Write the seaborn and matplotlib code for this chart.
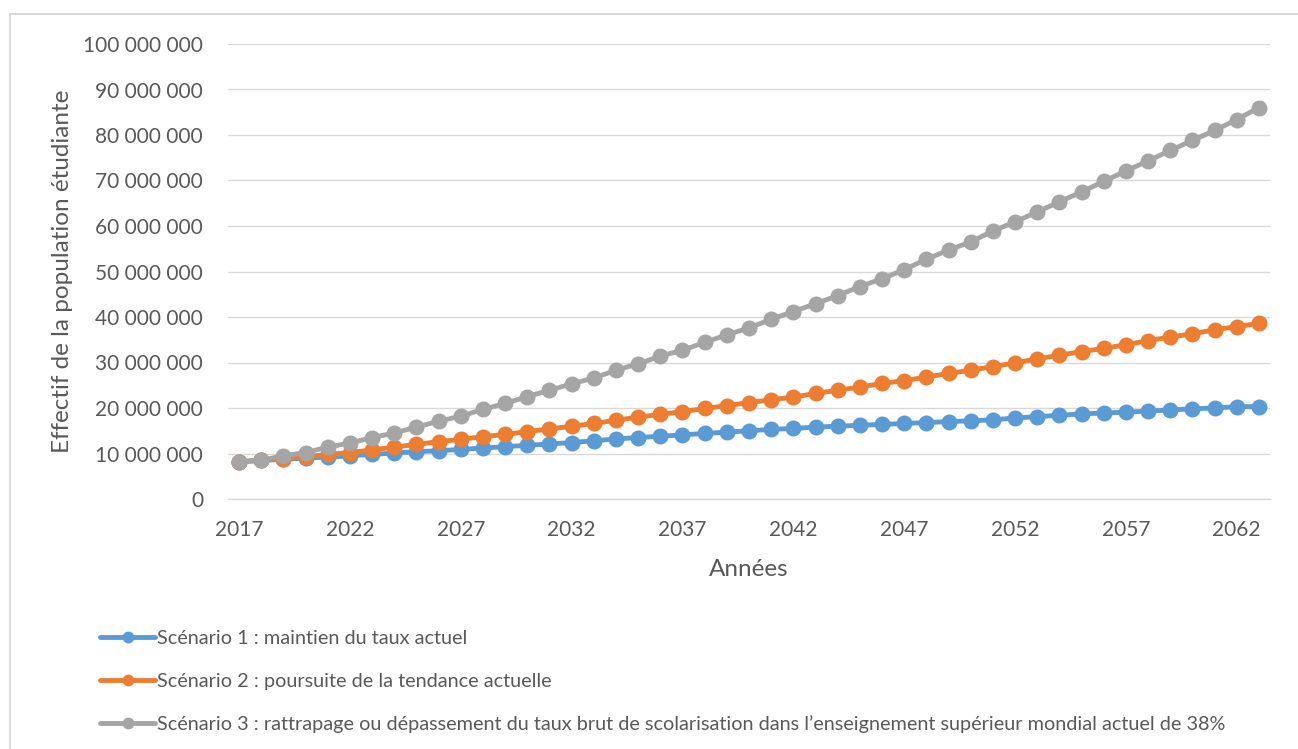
import pandas as pd
import seaborn as sns
import matplotlib.pyplot as plt
from matplotlib.ticker import FuncFormatter, MultipleLocator
from matplotlib.lines import Line2D

# années 2017 -> 2063
years = list(range(2017, 2064))

# effectifs en millions
scenario1 = [8.2, 8.5, 8.7, 9.0, 9.2, 9.5, 9.8, 10.1, 10.4, 10.6,
             10.9, 11.2, 11.5, 11.8, 12.1, 12.4, 12.8, 13.2, 13.5, 13.8,
             14.1, 14.4, 14.7, 15.0, 15.3, 15.5, 15.8, 16.0, 16.2, 16.4,
             16.6, 16.8, 17.0, 17.2, 17.4, 17.8, 18.1, 18.4, 18.7, 18.9,
             19.1, 19.3, 19.6, 19.8, 20.0, 20.3, 20.3]
scenario2 = [8.2, 8.5, 8.9, 9.3, 9.8, 10.2, 10.8, 11.4, 12.0, 12.6,
             13.1, 13.7, 14.2, 14.8, 15.4, 16.0, 16.6, 17.3, 18.0, 18.6,
             19.2, 19.9, 20.5, 21.2, 21.8, 22.4, 23.2, 23.9, 24.6, 25.4,
             26.0, 26.8, 27.6, 28.3, 29.1, 29.9, 30.8, 31.6, 32.4, 33.1,
             33.9, 34.8, 35.6, 36.3, 37.2, 37.9, 38.6]
scenario3 = [8.2, 8.5, 9.5, 10.2, 11.4, 12.3, 13.5, 14.5, 15.8, 17.1,
             18.2, 19.7, 21.0, 22.5, 23.9, 25.3, 26.6, 28.3, 29.7, 31.4,
             32.7, 34.4, 36.1, 37.6, 39.5, 41.2, 42.9, 44.7, 46.7, 48.4,
             50.4, 52.7, 54.7, 56.5, 58.9, 60.9, 63.1, 65.3, 67.5, 69.8,
             72.1, 74.3, 76.6, 78.8, 81.0, 83.4, 86.0]

labels = [
    "Scénario 1 : maintien du taux actuel",
    "Scénario 2 : poursuite de la tendance actuelle",
    "Scénario 3 : rattrapage ou dépassement du taux brut de scolarisation "
    "dans l\u2019enseignement supérieur mondial actuel de 38%",
]
colors = ["#5B9BD5", "#ED7D31", "#A5A5A5"]

rows = []
for lab, vals in zip(labels, [scenario1, scenario2, scenario3]):
    for y, v in zip(years, vals):
        rows.append({"Année": y, "Effectif": v * 1e6, "Scénario": lab})
df = pd.DataFrame(rows)

sns.set_style("white")
plt.rcParams["font.family"] = ["Lato", "DejaVu Sans"]
text_col = "#595959"

fig = plt.figure(figsize=(12.98, 7.49), dpi=100)
ax = fig.add_axes([228 / 1298, 1 - 499 / 749, (1270 - 228) / 1298, (499 - 44) / 749])

sns.lineplot(data=df, x="Année", y="Effectif", hue="Scénario", palette=colors,
             marker="o", markersize=11.5, markeredgewidth=0, linewidth=3.5,
             legend=False, ax=ax)

ax.set_xlim(2016.5, 2063.5)
ax.set_ylim(0, 100e6)
ax.yaxis.set_major_locator(MultipleLocator(10e6))
ax.yaxis.set_major_formatter(FuncFormatter(lambda v, p: f"{int(v):,}".replace(",", " ")))
ax.set_xticks(list(range(2017, 2064, 5)))
ax.grid(axis="y", color="#D9D9D9", linewidth=1)
ax.set_axisbelow(True)
for s in ["top", "right", "left"]:
    ax.spines[s].set_visible(False)
ax.spines["bottom"].set_color("#D9D9D9")
ax.spines["bottom"].set_linewidth(1)
ax.tick_params(axis="both", length=0, labelsize=15, labelcolor=text_col)
ax.tick_params(axis="x", pad=15)
ax.tick_params(axis="y", pad=18)

ax.set_xlabel("Années", fontsize=17.5, color=text_col, labelpad=14)
ax.set_ylabel("Effectif de la population étudiante", fontsize=17.5, color=text_col, labelpad=7)

handles = [Line2D([0], [0], color=c, lw=3.5, marker="o", markersize=7.5) for c in colors]
fig.legend(handles, labels, loc="upper left", bbox_to_anchor=(82 / 1298, 1 - 612 / 749),
           frameon=False, fontsize=14.3, labelcolor=text_col, handlelength=2.8,
           handletextpad=0.1, labelspacing=1.3)

# cadre du graphique
fig.add_artist(Line2D([10 / 1298, 10 / 1298], [0, 1 - 14 / 749], color="#D9D9D9", lw=1.5))
fig.add_artist(Line2D([10 / 1298, 1], [1 - 14 / 749, 1 - 14 / 749], color="#D9D9D9", lw=1.5))

fig.savefig("out.png", dpi=100)
